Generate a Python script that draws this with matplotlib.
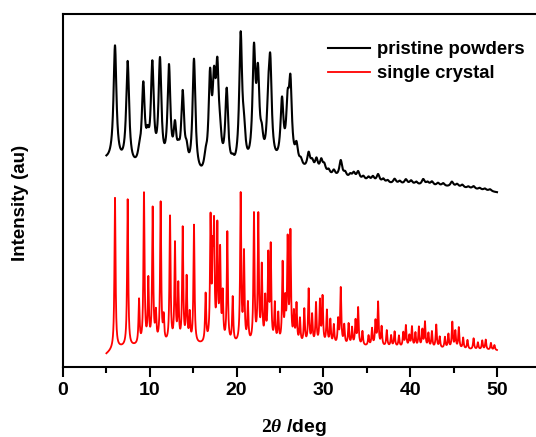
import numpy as np
import matplotlib
matplotlib.use("Agg")
import matplotlib.pyplot as plt

plt.rcParams["font.family"] = ["Liberation Sans", "DejaVu Sans"]
plt.rcParams["font.weight"] = "bold"
plt.rcParams["mathtext.fontset"] = "custom"
plt.rcParams["mathtext.rm"] = "Liberation Serif:bold"
plt.rcParams["mathtext.it"] = "Liberation Serif:italic:bold"

# ---- diffraction data: peak positions (2theta, deg), heights, widths ----
# pristine powders (measured, offset upward)
powder_pos = [5.99, 7.45, 8.80, 9.25, 9.75, 10.29, 11.17, 12.21, 12.90, 13.30,
              13.79, 14.24, 15.09, 16.43, 16.94, 17.40, 17.78, 18.10, 18.86, 19.55,
              20.47, 20.85, 22.00, 22.46, 22.90, 23.65, 23.88, 25.23, 25.88, 26.20,
              26.90, 27.40, 28.30, 28.70, 29.20, 29.75, 30.10, 30.60, 31.20, 32.00,
              32.50, 33.10, 33.50, 34.00, 34.60, 35.20, 35.70, 36.30, 36.90, 37.40,
              38.20, 38.80, 39.50, 40.10, 40.70, 41.50, 42.00, 42.50, 43.20, 43.80,
              44.80, 45.40, 46.00, 46.70, 47.30, 48.00, 48.60, 49.20]
powder_amp = [116, 103, 10, 79, 20, 100, 106, 101, 39, 12,
              76, 16, 115, 12, 90, 74, 90, 22, 79, 6,
              132, 26, 110, 82, 20, 45, 90, 60, 50, 75,
              18, 6, 16, 8, 12, 12, 8, 5, 6, 17,
              5, 4, 6, 8, 4, 4, 5, 8, 4, 3,
              5, 3, 5, 4, 3, 6, 3, 4, 3, 3,
              5, 3, 3, 2, 3, 2, 2, 2]
powder_hwhm = 0.2
powder_bg_pos = [5, 8, 16, 20, 25, 27, 31, 37, 45, 50]
powder_bg_val = [205, 196, 184, 190, 198, 196, 188, 182, 179, 174]

# single crystal (simulated pattern)
crystal_pos = [5.99, 7.45, 8.76, 9.33, 9.83, 10.33, 10.70, 11.25, 11.60, 12.33,
               12.90, 13.28, 13.79, 14.24, 14.60, 15.09, 16.43, 17.00, 17.25, 17.40,
               17.78, 18.10, 18.40, 18.93, 19.55, 20.47, 20.85, 21.30, 22.00, 22.50,
               22.90, 23.30, 23.65, 23.93, 24.40, 24.80, 25.30, 25.60, 25.88, 26.20,
               26.60, 26.90, 27.30, 27.80, 28.30, 28.70, 29.15, 29.60, 29.90, 30.40,
               30.80, 31.20, 31.70, 32.00, 32.40, 32.90, 33.30, 33.70, 34.00, 34.50,
               35.20, 35.60, 36.00, 36.30, 36.70, 37.30, 37.80, 38.20, 38.70, 39.20,
               39.50, 39.90, 40.20, 40.60, 41.00, 41.40, 41.70, 42.10, 42.50, 43.00,
               43.40, 44.00, 44.40, 44.85, 45.20, 45.60, 46.10, 46.60, 47.30, 47.80,
               48.30, 48.70, 49.30, 49.70]
crystal_amp = [150, 147, 44, 150, 62, 134, 28, 140, 24, 126,
               98, 56, 114, 64, 28, 118, 48, 120, 74, 104,
               112, 88, 46, 110, 45, 148, 88, 38, 128, 126,
               74, 42, 84, 94, 38, 28, 78, 38, 100, 108,
               28, 38, 24, 34, 54, 28, 40, 42, 46, 33,
               24, 19, 24, 56, 19, 21, 17, 24, 37, 14,
               10, 17, 24, 43, 19, 16, 11, 15, 11, 14,
               21, 11, 20, 14, 20, 17, 25, 14, 16, 23,
               11, 11, 14, 26, 17, 21, 11, 9, 11, 7,
               9, 10, 7, 5]
crystal_hwhm = 0.075
crystal_bg_pos = [5, 6, 10, 30, 50]
crystal_bg_val = [12, 18, 21, 21, 16]

two_theta = np.arange(5.0, 50.0001, 0.01)


def pattern(pos, amp, hwhm, bg_pos, bg_val):
    y = np.interp(two_theta, bg_pos, bg_val)
    for c, h in zip(pos, amp):
        y = y + h / (1.0 + ((two_theta - c) / hwhm) ** 2)
    return y


powder = pattern(powder_pos, powder_amp, powder_hwhm, powder_bg_pos, powder_bg_val)
crystal = pattern(crystal_pos, crystal_amp, crystal_hwhm, crystal_bg_pos, crystal_bg_val)

fig = plt.figure(figsize=(5.36, 4.37), dpi=100)
ax = fig.add_axes([63 / 536, 70.5 / 437, 477.4 / 536, 352.5 / 437])

ax.plot(two_theta, powder, color="black", lw=1.5, label="pristine powders")
ax.plot(two_theta, crystal, color="#ff0000", lw=1.3, label="single crystal")

ax.set_xlim(0, 55)
ax.set_ylim(0, 352.5)
ax.set_xticks([0, 10, 20, 30, 40, 50])
ax.set_xticks([5, 15, 25, 35, 45], minor=True)
ax.set_yticks([])
ax.tick_params(axis="x", which="major", direction="out", length=7, width=1.5,
               labelsize=14, pad=4)
ax.tick_params(axis="x", which="minor", direction="out", length=4.5, width=1.5)
for lbl in ax.get_xticklabels():
    lbl.set_fontweight("bold")
for s in ax.spines.values():
    s.set_linewidth(1.5)

fig.text(21 / 536, 1 - 203 / 437, "Intensity (au)", rotation=90,
         fontsize=13.5, fontweight="bold", ha="center", va="center")
fig.text(294 / 536, 1 - 427 / 437, r"$\mathrm{2}\mathit{θ}$ /deg",
         fontsize=14, fontweight="bold", ha="center", va="center")

leg = ax.legend(loc="upper left", bbox_to_anchor=(328 / 536, 1 - 41 / 437),
                bbox_transform=fig.transFigure, frameon=False, fontsize=13.3,
                handlelength=2.3, handletextpad=0.35, labelspacing=0.4,
                borderpad=0, borderaxespad=0)
for t in leg.get_texts():
    t.set_fontweight("bold")

fig.savefig("out.png", dpi=100)
